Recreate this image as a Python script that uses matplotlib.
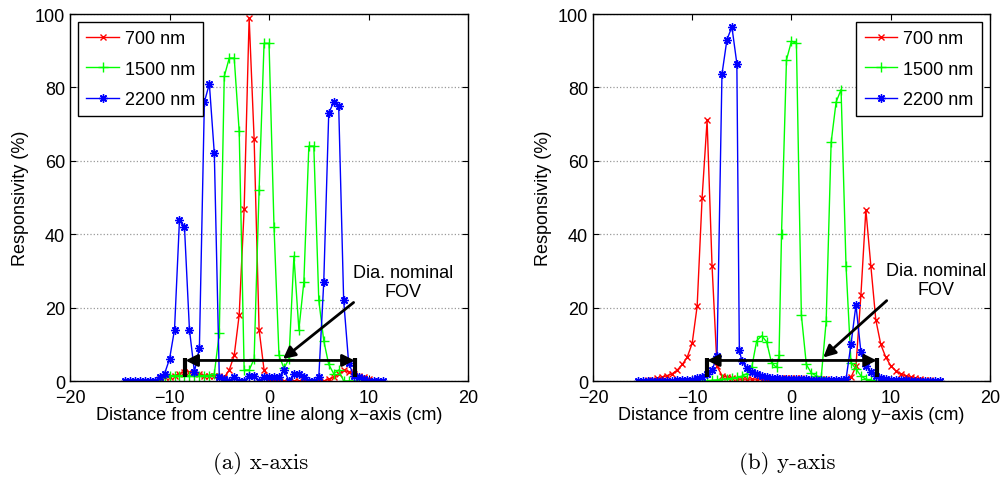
import matplotlib
matplotlib.use("Agg")
import matplotlib.pyplot as plt

plt.rcParams['font.family'] = ['Liberation Sans', 'DejaVu Sans']
plt.rcParams['font.size'] = 13
plt.rcParams['axes.unicode_minus'] = True

# ---- (a) x-axis scan ----
xa_red = [-11, -10.5, -10, -9.5, -9, -8.5, -8, -7.5, -7, -6.5, -6, -5.5, -5, -4.5,
          -4, -3.5, -3, -2.5, -2, -1.5, -1, -0.5, 0, 0.5, 1, 1.5, 2, 2.5, 3, 3.5,
          4, 4.5, 5, 5.5, 6, 6.5, 7, 7.5, 8, 8.5, 9, 9.5, 10]
ya_red = [0.5, 1, 1, 1.5, 2, 2.5, 2.5, 2.5, 2, 1.5, 1.5, 1.5, 1.5, 1,
          3, 7, 18, 47, 99, 66, 14, 3, 0.5, 0, 0, 0, 0, 0, 0, 0,
          0, 0, 0, 0, 0.5, 1, 2, 3, 2.5, 2, 1.5, 1, 0.5]

xa_green = [-11, -10.5, -10, -9.5, -9, -8.5, -8, -7.5, -7, -6.5, -6, -5.5, -5, -4.5,
            -4, -3.5, -3, -2.5, -2, -1.5, -1, -0.5, 0, 0.5, 1, 1.5, 2, 2.5, 3, 3.5,
            4, 4.5, 5, 5.5, 6, 6.5, 7, 7.5, 8, 8.5, 9]
ya_green = [0, 1, 1.5, 1.5, 1.5, 1.5, 1.5, 1.5, 1.5, 1.5, 1.5, 2, 13, 83,
            88, 88, 68, 3, 3, 6, 52, 92, 92, 42, 7, 3.5, 6, 34, 14, 27,
            64, 64, 22, 11, 4.5, 2, 3, 0, 0, 0, 0]

xa_blue = [-14.5, -14, -13.5, -13, -12.5, -12, -11.5, -11, -10.5, -10, -9.5, -9,
           -8.5, -8, -7.5, -7, -6.5, -6, -5.5, -5, -4.5, -4, -3.5, -3, -2.5, -2,
           -1.5, -1, -0.5, 0, 0.5, 1, 1.5, 2, 2.5, 3, 3.5, 4, 4.5, 5, 5.5, 6,
           6.5, 7, 7.5, 8, 8.5, 9, 9.5, 10, 10.5, 11, 11.5]
ya_blue = [0, 0, 0, 0, 0, 0, 0, 1, 2, 6, 14, 44,
           42, 14, 2.5, 9, 76, 81, 62, 1, 0.5, 0, 1, 0, 0, 1.5,
           1.5, 0, 1, 1, 1, 1, 3, 0, 2, 2, 1, 0, 0, 1, 27, 73,
           76, 75, 22, 5, 1.5, 1, 0.5, 0, 0, 0, 0]

# ---- (b) y-axis scan ----
xb_red = [-15, -14.5, -14, -13.5, -13, -12.5, -12, -11.5, -11, -10.5, -10, -9.5,
          -9, -8.5, -8, -7.5, -7, -6.5, -6, -5.5, -5, -4.5, -4, -3.5, -3, -2.5,
          -2, -1.5, -1, -0.5, 0, 0.5, 1, 1.5, 2, 2.5, 3, 3.5, 4, 4.5, 5, 5.5,
          6, 6.5, 7, 7.5, 8, 8.5, 9, 9.5, 10, 10.5, 11, 11.5, 12, 12.5, 13,
          13.5, 14, 14.5, 15]
yb_red = [0, 0.2, 0.4, 0.7, 1, 1.5, 2, 3, 4.5, 6.5, 10.3, 20.4,
          50, 71, 31.4, 4, 1.5, 1, 0.8, 0.5, 0.5, 0.5, 0.5, 0.5, 0.5, 0.6,
          0.6, 0.7, 0.8, 0.8, 0.8, 0.8, 0.7, 0.6, 0.5, 0.5, 0.5, 0.5, 0.4, 0.4, 0.4, 0.5,
          1, 4, 23.4, 46.7, 31.4, 16.7, 10, 6.5, 4.2, 2.8, 2, 1.4, 1, 0.7, 0.5,
          0.3, 0.2, 0.1, 0]

xb_green = [-9, -8.5, -8, -7.5, -7, -6.5, -6, -5.5, -5, -4.5, -4, -3.5, -3, -2.5,
            -2, -1.5, -1.25, -1, -0.5, 0, 0.5, 1, 1.5, 2, 2.5, 3, 3.5, 4, 4.5,
            5, 5.5, 6, 6.5, 7, 7.5, 8, 8.5]
yb_green = [0, 0, 0.2, 0.3, 0.5, 0.5, 0.8, 1, 1.3, 2, 3.7, 11, 12.3, 10.7,
            4.9, 3.7, 7, 40, 87.5, 92.6, 92, 18, 4.5, 2.2, 1.4, 1, 16.3, 65, 76,
            79.4, 31.4, 5, 3.3, 1.4, 0.5, 0.2, 0]

xb_blue = [-15.5, -15, -14.5, -14, -13.5, -13, -12.5, -12, -11.5, -11, -10.5, -10,
           -9.5, -9, -8.5, -8, -7.5, -7, -6.5, -6, -5.5, -5.25, -5, -4.5, -4,
           -3.5, -3, -2.5, -2, -1.5, -1, -0.5, 0, 0.5, 1, 1.5, 2, 2.5, 3, 3.5,
           4, 4.5, 5, 5.5, 6, 6.5, 7, 7.5, 8, 8.5, 9, 9.5, 10, 10.5, 11, 11.5,
           12, 12.5, 13, 13.5, 14, 14.5, 15]
yb_blue = [0, 0, 0, 0, 0, 0, 0, 0, 0.2, 0.3, 0.3, 0.4,
           0.7, 1, 1.8, 3, 6.7, 83.6, 93, 96.5, 86.5, 8.5, 5.5, 3.5, 2.5,
           1.8, 1.3, 1, 0.8, 0.7, 0.6, 0.6, 0.5, 0.5, 0.5, 0.5, 0.4, 0.4, 0.4, 0.3,
           0.3, 0.3, 0.3, 0.5, 10, 20.7, 7.9, 4.2, 2.4, 1.4, 0.8, 0.5, 0.4, 0.3, 0.2, 0.2,
           0.1, 0.1, 0, 0, 0, 0, 0]

labels = ['700 nm', '1500 nm', '2200 nm']
captions = ['(a) x-axis', '(b) y-axis']
xlabels = ['Distance from centre line along x\u2212axis (cm)',
           'Distance from centre line along y\u2212axis (cm)']

fig = plt.figure(figsize=(10.05, 4.81), dpi=100)
ax1 = fig.add_axes([0.0697, 0.2058, 0.396, 0.763])
ax2 = fig.add_axes([0.590, 0.2058, 0.395, 0.763])

panels = [
    (ax1, (xa_red, ya_red), (xa_green, ya_green), (xa_blue, ya_blue),
     'upper left', (-8.4, 8.6), (13.5, 27), (8.5, 21.4), (1.4, 6)),
    (ax2, (xb_red, yb_red), (xb_green, yb_green), (xb_blue, yb_blue),
     'upper right', (-8.5, 8.6), (14.6, 27.5), (9.6, 21.9), (3.2, 6.4)),
]

for i, (ax, r, g, b, loc, fov, tpos, astart, aend) in enumerate(panels):
    ax.plot(r[0], r[1], color='#ff0000', lw=1, marker='x', ms=4.5, mew=1,
            label=labels[0])
    ax.plot(g[0], g[1], color='#00ff00', lw=1, marker='+', ms=7, mew=1,
            label=labels[1])
    ax.plot(b[0], b[1], color='#0000ff', lw=1, marker=(8, 2, 0), ms=6, mew=1,
            label=labels[2])

    ax.set_xlim(-20, 20)
    ax.set_ylim(0, 100)
    ax.set_xticks([-20, -10, 0, 10, 20])
    ax.set_yticks([0, 20, 40, 60, 80, 100])
    ax.grid(axis='y', linestyle=':', color='#999999', lw=0.9)
    ax.tick_params(direction='in', top=True, right=True, length=4, labelsize=13)
    ax.tick_params(axis='x', pad=6)
    for s in ax.spines.values():
        s.set_linewidth(1)
    ax.set_xlabel(xlabels[i], fontsize=13, labelpad=0)
    ax.set_ylabel('Responsivity (%)', fontsize=13, labelpad=4)

    # nominal FOV marker
    y0 = 5.6
    ax.annotate('', xy=(fov[0], y0), xytext=(fov[1], y0),
                arrowprops=dict(arrowstyle='<|-|>', color='k', lw=2,
                                mutation_scale=18, shrinkA=0, shrinkB=0))
    for xv in fov:
        ax.plot([xv, xv], [1.2, 6.3], color='k', lw=3, solid_capstyle='butt')
    ax.text(tpos[0], tpos[1], 'Dia. nominal\nFOV', ha='center', va='center',
            fontsize=13, linespacing=1.1)
    ax.annotate('', xy=aend, xytext=astart,
                arrowprops=dict(arrowstyle='-|>', color='k', lw=2,
                                mutation_scale=18, shrinkA=0, shrinkB=0))

    leg = ax.legend(loc=loc, fontsize=13, fancybox=False, framealpha=1,
                    edgecolor='k', handlelength=1.8, handletextpad=0.35,
                    borderaxespad=0.45, labelspacing=0.75, borderpad=0.45)
    leg.get_frame().set_linewidth(1)

fig.text(0.259, 0.036, captions[0], family='cmr10', fontsize=16.5,
         ha='center', va='center')
fig.text(0.783, 0.036, captions[1], family='cmr10', fontsize=16.5,
         ha='center', va='center')

fig.savefig('out.png', dpi=100)
